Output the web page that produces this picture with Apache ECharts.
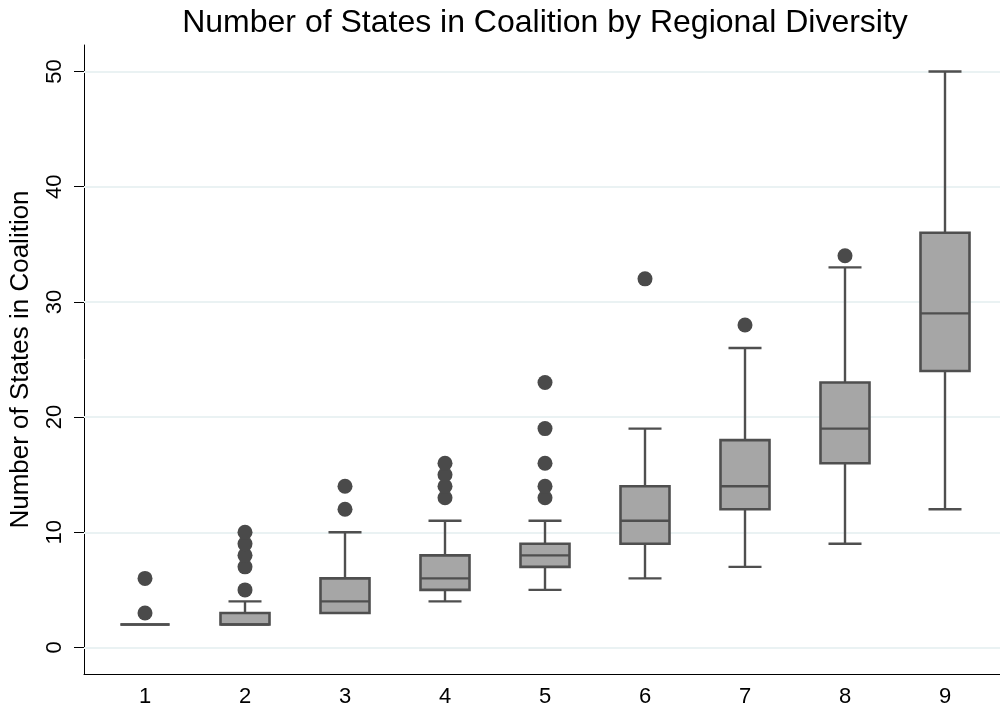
<!DOCTYPE html>
<html>
<head>
<meta charset="utf-8">
<script src="https://cdn.jsdelivr.net/npm/echarts@6/dist/echarts.min.js"></script>
<style>html,body{margin:0;padding:0;background:#fff;}#chart{width:1000px;height:715px;}</style>
</head>
<body>
<div id="chart"></div>
<script>
// ---- data ----
const categories = [1, 2, 3, 4, 5, 6, 7, 8, 9];
const mins    = [2, 2, 3, 4, 5, 6, 7, 9, 12];
const q1s     = [2, 2, 3, 5, 7, 9, 12, 16, 24];
const medians = [2, 2, 4, 6, 8, 11, 14, 19, 29];
const q3s     = [2, 3, 6, 8, 9, 14, 18, 23, 36];
const maxs    = [2, 4, 10, 11, 11, 19, 26, 33, 50];
const outliers = [
  [3, 6],
  [5, 7, 8, 9, 10],
  [12, 14],
  [13, 14, 15, 16],
  [13, 14, 16, 19, 23],
  [32],
  [28],
  [34],
  []
];
const yTicks = [0, 10, 20, 30, 40, 50];

const titleText = 'Number of States in Coalition by Regional Diversity';
const yTitle = 'Number of States in Coalition';

// ---- build ----
const boxData = categories.map((c, i) => [c, mins[i], q1s[i], medians[i], q3s[i], maxs[i]]);
const outlierData = [];
categories.forEach((c, i) => outliers[i].forEach(v => outlierData.push([c, v])));

const BOX_W = 0.49, CAP_W = 0.33;
const STROKE = '#4f4f4f', FILL = '#a6a6a6';
const FONT = 'Liberation Sans, Arial, sans-serif';

function renderBox(params, api) {
  const x = api.value(0);
  const mn = api.value(1), q1 = api.value(2), md = api.value(3), q3 = api.value(4), mx = api.value(5);
  const bw = api.size([BOX_W, 0])[0];
  const cw = api.size([CAP_W, 0])[0];
  const pMin = api.coord([x, mn]), pQ1 = api.coord([x, q1]), pMd = api.coord([x, md]);
  const pQ3 = api.coord([x, q3]), pMax = api.coord([x, mx]);
  const ls = { stroke: STROKE, lineWidth: 2.4 };
  const children = [];
  if (mx > q3) {
    children.push({ type: 'line', shape: { x1: pMax[0], y1: pMax[1], x2: pQ3[0], y2: pQ3[1] }, style: ls });
    children.push({ type: 'line', shape: { x1: pMax[0] - cw / 2, y1: pMax[1], x2: pMax[0] + cw / 2, y2: pMax[1] }, style: ls });
  }
  if (mn < q1) {
    children.push({ type: 'line', shape: { x1: pMin[0], y1: pMin[1], x2: pQ1[0], y2: pQ1[1] }, style: ls });
    children.push({ type: 'line', shape: { x1: pMin[0] - cw / 2, y1: pMin[1], x2: pMin[0] + cw / 2, y2: pMin[1] }, style: ls });
  }
  children.push({ type: 'rect', shape: { x: pQ3[0] - bw / 2, y: pQ3[1], width: bw, height: pQ1[1] - pQ3[1] },
    style: { fill: FILL, stroke: STROKE, lineWidth: 2.6 } });
  children.push({ type: 'line', shape: { x1: pMd[0] - bw / 2, y1: pMd[1], x2: pMd[0] + bw / 2, y2: pMd[1] }, style: ls });
  return { type: 'group', children };
}

const chart = echarts.init(document.getElementById('chart'), null, { renderer: 'canvas' });
chart.setOption({
  animation: false,
  backgroundColor: '#ffffff',
  textStyle: { fontFamily: FONT },
  title: {
    text: titleText,
    left: 540,
    textAlign: 'center',
    top: 2,
    textStyle: { fontFamily: FONT, fontSize: 32, fontWeight: 'normal', color: '#000' }
  },
  grid: { left: 84, right: 0, top: 45, bottom: 41, containLabel: false },
  xAxis: {
    type: 'value',
    min: 0.39,
    max: 9.55,
    axisLine: { show: true, onZero: false, lineStyle: { color: '#000', width: 1 } },
    axisTick: { show: false },
    splitLine: { show: false },
    axisLabel: { customValues: categories, margin: 12, fontSize: 22, color: '#000', fontFamily: FONT }
  },
  yAxis: {
    type: 'value',
    min: -2.3,
    max: 52.3,
    name: yTitle,
    nameLocation: 'middle',
    nameRotate: 90,
    nameGap: 50,
    nameTextStyle: { fontSize: 26, color: '#000', fontFamily: FONT },
    axisLine: { show: true, onZero: false, lineStyle: { color: '#000', width: 1 } },
    axisTick: { show: true, customValues: yTicks, length: 10, lineStyle: { color: '#000' } },
    splitLine: { show: false },
    axisLabel: { customValues: yTicks, rotate: 90, margin: 18, fontSize: 22, color: '#000', fontFamily: FONT }
  },
  series: [
    {
      type: 'scatter',
      z: 1,
      data: [],
      markLine: {
        silent: true,
        z: 1,
        symbol: 'none',
        label: { show: false },
        lineStyle: { color: '#eaf2f3', width: 2, type: 'solid' },
        data: yTicks.map(v => ({ yAxis: v }))
      }
    },
    {
      type: 'custom',
      z: 10,
      renderItem: renderBox,
      data: boxData
    },
    {
      type: 'scatter',
      z: 11,
      symbol: 'circle',
      symbolSize: 15,
      itemStyle: { color: '#4a4a4a', opacity: 1 },
      data: outlierData
    }
  ]
});
</script>
</body>
</html>
